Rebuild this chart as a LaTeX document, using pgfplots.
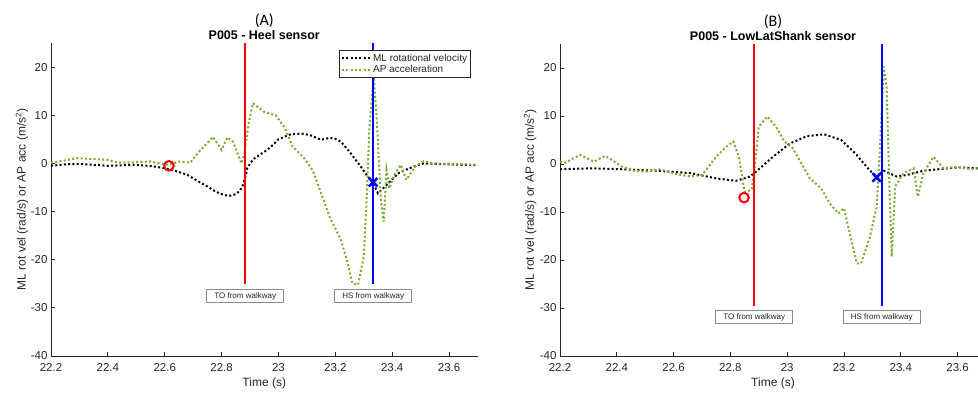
\documentclass[border=0pt]{standalone}
\usepackage{pgfplots}
\pgfplotsset{compat=1.18}
\usepackage{fontspec}
\setmainfont{Liberation Sans}
\newfontfamily\carlito{Carlito}
\definecolor{mgreen}{RGB}{119,172,48}
\definecolor{axgray}{RGB}{38,38,38}
\tikzset{
  evbox/.style={draw=black!45, fill=white, line width=0.6pt, font=\fontsize{8}{9}\selectfont, text=axgray, minimum width=77pt, minimum height=13pt, inner sep=1pt},
  blk/.style={black, line width=2pt, dash pattern=on 2pt off 2.3pt},
  grn/.style={mgreen, line width=2pt, dash pattern=on 2pt off 2.3pt},
}
\pgfplotsset{
  myax/.style={
    scale only axis, anchor=south west,
    xmin=22.2, xmax=23.7, ymin=-40, ymax=25,
    axis lines=left, axis line style={-, axgray, line width=0.8pt},
    tick align=inside, major tick length=4pt, tick style={axgray, line width=0.8pt},
    xtick={22.2,22.4,22.6,22.8,23,23.2,23.4,23.6},
    ytick={-40,-30,-20,-10,0,10,20},
    scaled x ticks=false,
    xticklabel style={/pgf/number format/fixed, /pgf/number format/precision=1, yshift=-3.5pt},
    /pgf/number format/assume math mode=true,
    ticklabel style={font=\fontsize{11.5}{13}\selectfont, text=axgray},
    label style={font=\fontsize{12}{14}\selectfont, text=axgray},
    xlabel={Time (s)},
    ylabel={ML rot vel (rad/s) or AP acc (m/s\textsuperscript{2})},
    xlabel style={at={(axis description cs:0.5,-0.088)}, anchor=center},
    clip mode=individual,
  },
}
\begin{document}
\begin{tikzpicture}
% ---------------- Panel A ----------------
\begin{axis}[myax, at={(51pt,36pt)}, width=426.5pt, height=313pt,
  ylabel style={at={(axis description cs:-0.068,0.5)}, anchor=center},
  legend style={at={(0.985,0.978)}, anchor=north east, draw=axgray, line width=1.1pt,
    font=\fontsize{10}{11}\selectfont, inner sep=1.5pt, row sep=-1.5pt, text=axgray},
  legend cell align=left,
  legend image code/.code={\draw[#1] (0pt,0pt) -- (28pt,0pt);},
]
\addplot[blk] coordinates {
(22.2,-0.5) (22.25,-0.2) (22.29,-0.1) (22.35,-0.3) (22.4,-0.5) (22.45,-0.4) (22.49,-0.3) (22.54,-0.5)
(22.57,-0.7) (22.615,-1.2) (22.65,-1.8) (22.68,-2.4) (22.72,-3.8) (22.75,-4.8) (22.78,-5.9) (22.81,-6.6)
(22.83,-6.7) (22.85,-6.4) (22.865,-5.6) (22.875,-4.5) (22.883,-3.0) (22.89,-1.0) (22.91,0.8) (22.93,1.6)
(22.96,2.8) (22.98,3.8) (23.0,5.0) (23.04,6.0) (23.08,6.2) (23.11,5.9) (23.15,4.9) (23.18,5.3) (23.2,5.1)
(23.22,4.5) (23.25,2.4) (23.29,-0.7) (23.31,-2.4) (23.33,-3.8) (23.35,-6.2) (23.38,-4.5) (23.42,-2.1)
(23.46,-1.0) (23.51,0) (23.55,-0.1) (23.6,-0.2) (23.7,-0.4)};
\addlegendentry{ML rotational velocity}
\addplot[grn] coordinates {
(22.2,0.15) (22.23,0.4) (22.29,1.1) (22.35,0.9) (22.4,0.7) (22.44,0.15) (22.49,0.2) (22.55,0.4)
(22.58,0) (22.615,-0.3) (22.65,0.4) (22.69,0.15) (22.72,2.4) (22.77,5.5) (22.8,2.8) (22.82,5.4)
(22.84,4.5) (22.87,0) (22.88,2.0) (22.895,8.3) (22.91,12.5) (22.95,10.7) (22.99,10.0) (23.02,7.6)
(23.05,3.5) (23.09,1.1) (23.12,-1.4) (23.15,-6.2) (23.18,-11.1) (23.22,-15.9) (23.24,-20.0) (23.26,-24.9)
(23.28,-25.2) (23.3,-19.3) (23.31,-7.6) (23.32,7.6) (23.335,18.0) (23.346,9.0) (23.36,-7.6) (23.37,-12.1)
(23.38,-1.4) (23.39,-5.2) (23.41,-2.1) (23.43,-0.3) (23.45,-3.4) (23.48,-0.7) (23.51,0.4) (23.55,0)
(23.6,-0.1) (23.7,-0.3)};
\addlegendentry{AP acceleration}
\addplot[red, line width=2pt, forget plot] coordinates {(22.883,-25) (22.883,25)};
\addplot[blue, line width=2pt, forget plot] coordinates {(23.333,-25) (23.333,25)};
\addplot[only marks, mark=o, red, mark size=4.8pt, line width=2pt, forget plot] coordinates {(22.615,-0.5)};
\addplot[only marks, mark=x, blue, mark size=6pt, line width=2.5pt, forget plot] coordinates {(23.333,-3.9)};
\node[evbox] at (axis cs:22.883,-27.6) {TO from walkway};
\node[evbox] at (axis cs:23.333,-27.6) {HS from walkway};
\node[font=\carlito\fontsize{16}{18}\selectfont] at (axis description cs:0.5,1.072) {(A)};
\node[font=\bfseries\fontsize{12.5}{14}\selectfont] at (axis description cs:0.5,1.026) {P005 - Heel sensor};
\end{axis}
% ---------------- Panel B ----------------
\begin{axis}[myax, at={(560pt,36pt)}, width=426pt, height=312pt,
  ylabel style={at={(axis description cs:-0.070,0.5)}, anchor=center},
]
\addplot[blk] coordinates {
(22.2,-1.1) (22.31,-0.9) (22.42,-1.1) (22.54,-1.4) (22.66,-1.9) (22.75,-3.0) (22.82,-3.5) (22.87,-2.6)
(22.89,-1.6) (22.95,1.5) (23.01,4.3) (23.07,5.8) (23.13,6.2) (23.19,5.0) (23.24,2.2) (23.29,-1.3)
(23.315,-2.6) (23.34,-1.4) (23.385,-2.6) (23.42,-2.3) (23.48,-1.4) (23.6,-0.7) (23.67,-0.9) (23.7,-0.9)};
\addplot[grn] coordinates {
(22.2,0.5) (22.22,0.3) (22.27,1.9) (22.32,0.5) (22.36,1.7) (22.42,-0.6) (22.46,-1.4) (22.5,-1.6)
(22.55,-1.1) (22.61,-2.1) (22.66,-2.6) (22.7,-2.3) (22.75,1.5) (22.78,3.3) (22.81,4.7) (22.83,1.5)
(22.85,-5.8) (22.875,-5.4) (22.887,0.1) (22.9,7.8) (22.93,9.9) (22.96,7.8) (22.99,4.7) (23.02,3.3)
(23.05,0.1) (23.08,-3.0) (23.12,-5.1) (23.15,-8.2) (23.18,-10.3) (23.2,-9.2) (23.22,-14.4) (23.245,-20.7)
(23.26,-20.7) (23.29,-15.5) (23.315,-8.9) (23.327,3.6) (23.34,20.3) (23.35,16.1) (23.36,-4.7) (23.368,-19.3)
(23.38,-4.7) (23.41,-1.9) (23.445,-0.9) (23.46,-6.8) (23.48,-1.9) (23.515,1.5) (23.55,-0.9) (23.6,-0.6)
(23.64,-1.1) (23.67,-0.9) (23.7,-1.0)};
\addplot[red, line width=2pt] coordinates {(22.884,-29.5) (22.884,25)};
\addplot[blue, line width=2pt] coordinates {(23.333,-29.5) (23.333,25)};
\addplot[only marks, mark=o, red, mark size=4.8pt, line width=2pt] coordinates {(22.848,-7.0)};
\addplot[only marks, mark=x, blue, mark size=6pt, line width=2.5pt] coordinates {(23.315,-2.8)};
\node[evbox] at (axis cs:22.884,-31.9) {TO from walkway};
\node[evbox] at (axis cs:23.333,-31.9) {HS from walkway};
\node[font=\carlito\fontsize{16}{18}\selectfont] at (axis description cs:0.5,1.072) {(B)};
\node[font=\bfseries\fontsize{12.5}{14}\selectfont] at (axis description cs:0.5,1.026) {P005 - LowLatShank sensor};
\end{axis}
\pgfresetboundingbox
\path[use as bounding box] (0pt,0pt) rectangle (978pt,392pt);
\end{tikzpicture}
\end{document}
